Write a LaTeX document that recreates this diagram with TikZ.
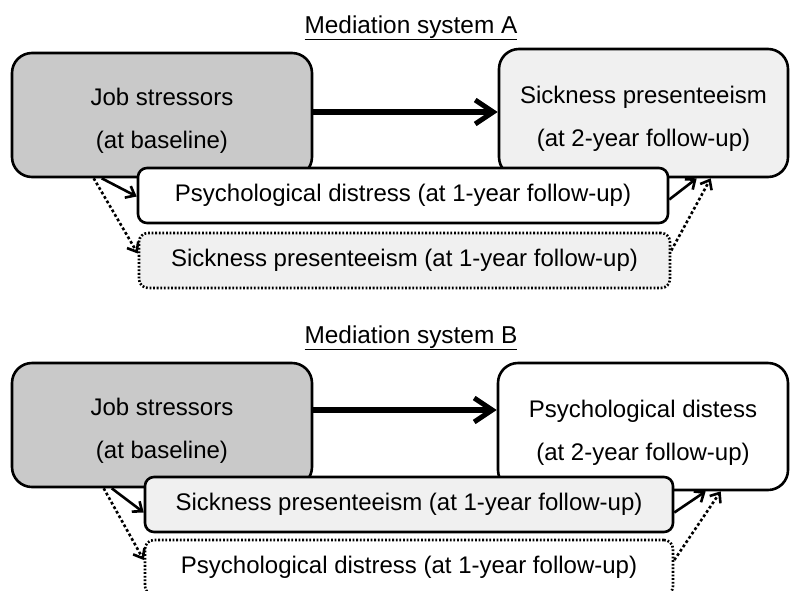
\documentclass[tikz,border=0pt]{standalone}
\usepackage{fontspec}
\setmainfont{Liberation Sans}
\usetikzlibrary{arrows.meta,calc}
\begin{document}
\begin{tikzpicture}[x=1pt,y=-1pt,
  boxbase/.style={rectangle,draw=black,line width=2.6pt,align=center,inner sep=0pt,
    font=\fontsize{24}{43}\selectfont},
  bigbox/.style={boxbase,rounded corners=20pt,text height=72.5pt,text depth=5.1pt},
  smallbox/.style={boxbase,rounded corners=9pt},
  darkfill/.style={fill=gray!42},
  dotfill/.style={fill=gray!12},
  plainfill/.style={fill=white},
  dotborder/.style={dash pattern=on 1.8pt off 1.8pt},
  title/.style={font=\fontsize{24.4}{28}\selectfont,inner sep=0pt},
  mainarrow/.style={line width=5.5pt,-{Straight Barb[length=18pt,width=24pt,line width=5pt]}},
  subarrow/.style={line width=2.6pt,-{Straight Barb[length=8pt,width=13pt,line width=2.6pt]}},
  dotarrow/.style={subarrow,dash pattern=on 2.8pt off 2.4pt}
]
\useasboundingbox (0,0) rectangle (790,590);
\clip (0,0) rectangle (790,590);
\fill[white] (0,0) rectangle (790,590);

% ---------- system A ----------
\node[title,anchor=base] (tA) at (411,33) {\underline{Mediation system A}};
\node[bigbox,darkfill,minimum width=300pt,minimum height=124pt] (jobA) at (162,115)
  {Job stressors\\(at baseline)};
\node[bigbox,dotfill,minimum width=289pt,minimum height=128pt] (spTwoA) at (643.5,113)
  {Sickness presenteeism\\(at 2-year follow-up)};
\node[smallbox,plainfill,minimum width=530pt,minimum height=55pt] (pdA) at (403,195.5)
  {Psychological distress (at 1-year follow-up)};
\node[smallbox,dotfill,dotborder,minimum width=531pt,minimum height=55pt] (spA) at (404.5,260.5)
  {Sickness presenteeism (at 1-year follow-up)};

\draw[mainarrow] ([yshift=3pt]jobA.east) -- ([yshift=1pt]spTwoA.west);
\draw[subarrow] ([xshift=91pt]jobA.south west) -- ([yshift=-1pt]pdA.west);
\draw[dotarrow] ([xshift=83pt]jobA.south west) -- ([yshift=7pt]spA.west);
\draw[subarrow] ([yshift=-4pt]pdA.east) -- ([xshift=199pt]spTwoA.south west);
\draw[dotarrow] ([yshift=10pt]spA.east) -- ([xshift=213pt]spTwoA.south west);

% ---------- system B ----------
\node[title,anchor=base] (tB) at (411,343) {\underline{Mediation system B}};
\node[bigbox,darkfill,minimum width=300pt,minimum height=124pt] (jobB) at (162,425)
  {Job stressors\\(at baseline)};
\node[bigbox,plainfill,minimum width=290pt,minimum height=127pt] (pdTwoB) at (643,426.5)
  {Psychological distess\\(at 2-year follow-up)};
\node[smallbox,dotfill,minimum width=528pt,minimum height=55pt] (spB) at (409,504.5)
  {Sickness presenteeism (at 1-year follow-up)};
\node[smallbox,plainfill,dotborder,minimum width=528pt,minimum height=55pt] (pdB) at (409,567.5)
  {Psychological distress (at 1-year follow-up)};

\draw[mainarrow] ([yshift=15pt]jobB.east) -- ([yshift=16.5pt]pdTwoB.west);
\draw[subarrow] ([xshift=101pt]jobB.south west) -- ([yshift=-8pt]spB.west);
\draw[dotarrow] ([xshift=93pt]jobB.south west) -- ([yshift=7.5pt]pdB.west);
\draw[subarrow] ([yshift=-8pt]spB.east) -- ([xshift=209pt]pdTwoB.south west);
\draw[dotarrow] ([yshift=7.5pt]pdB.east) -- ([xshift=224pt]pdTwoB.south west);
\end{tikzpicture}
\end{document}
